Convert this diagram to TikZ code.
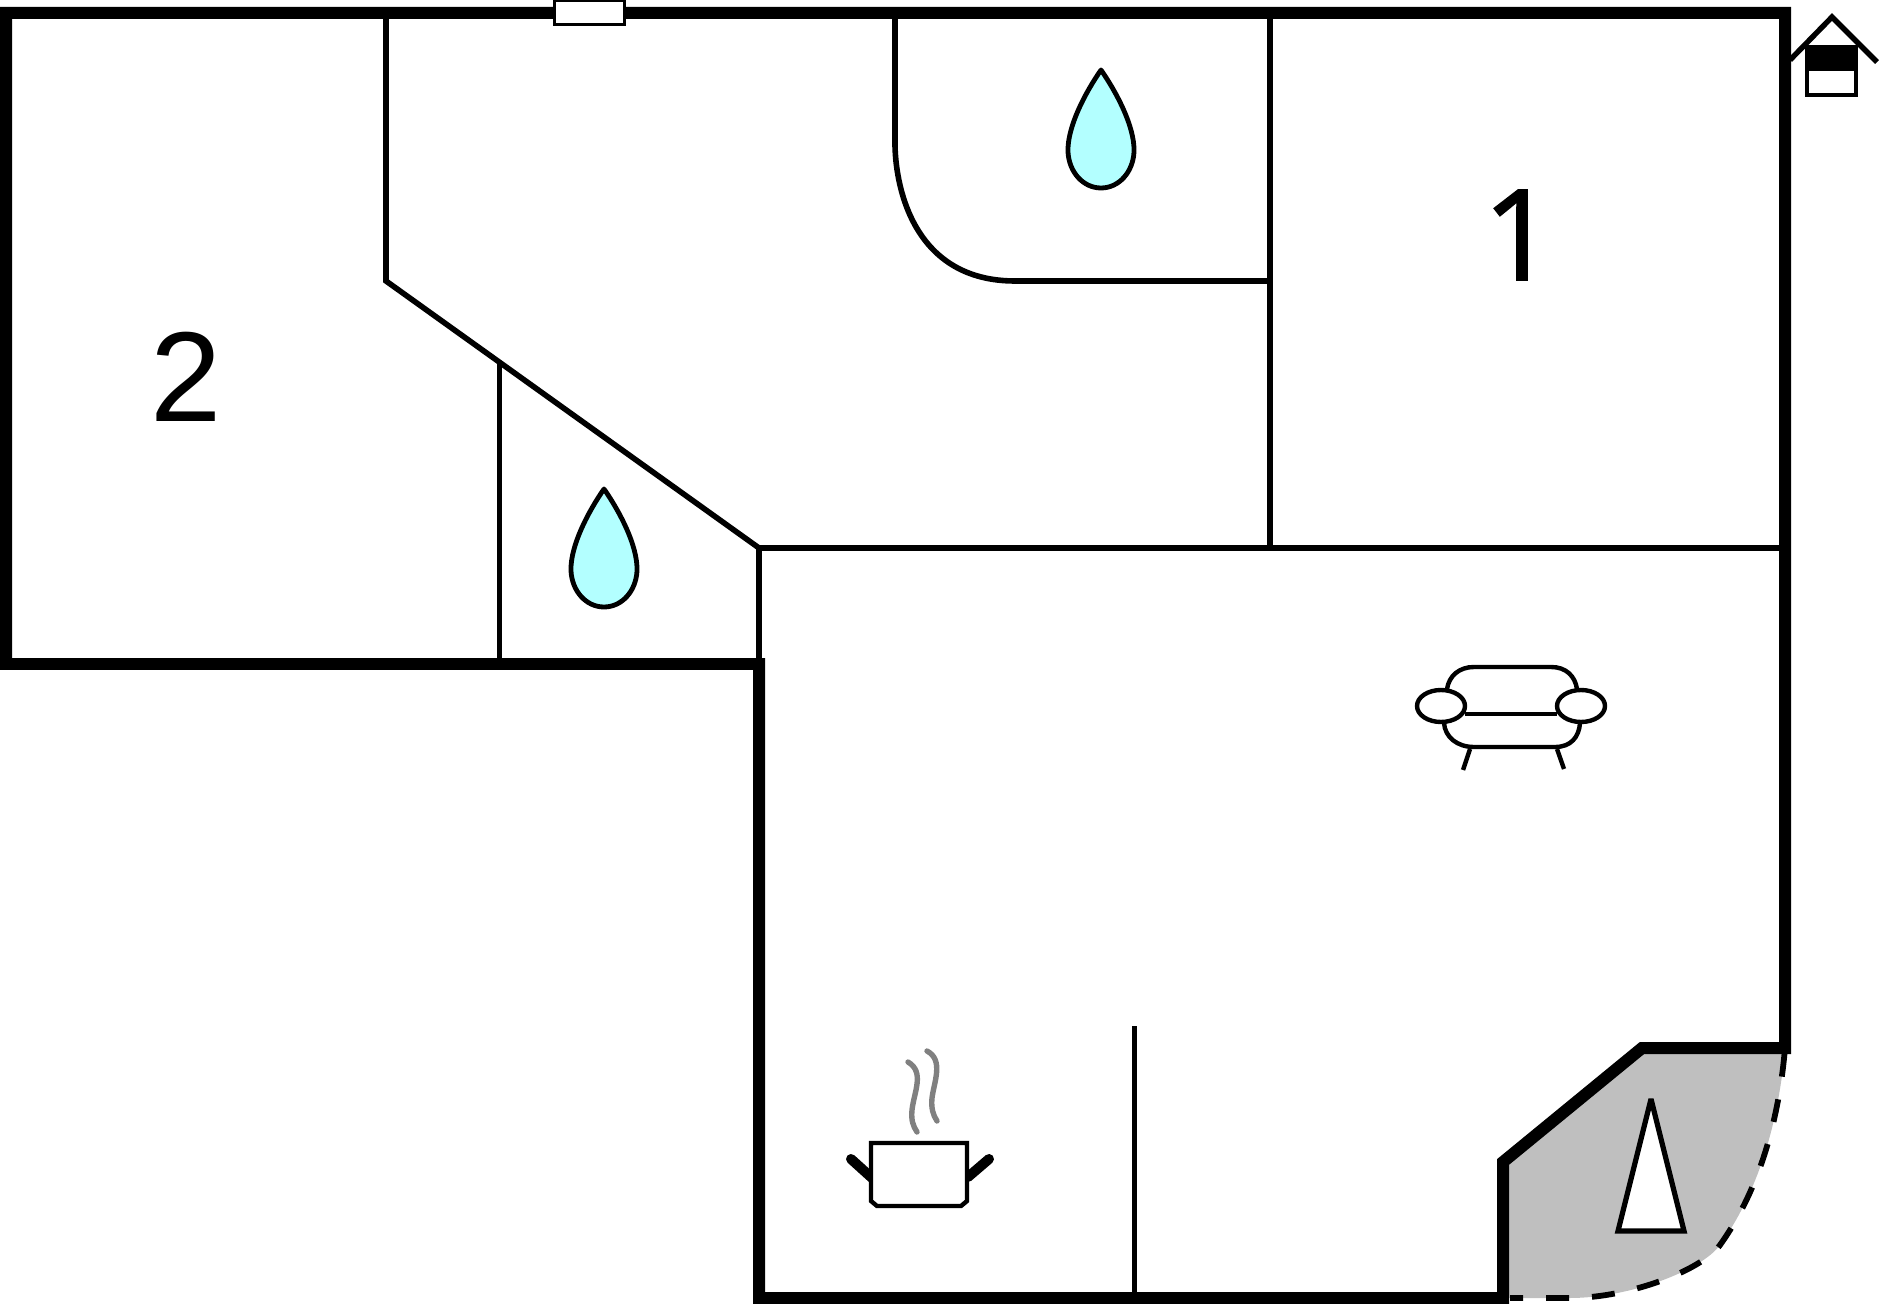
\documentclass[tikz,border=0pt]{standalone}
\usepackage{fontspec}
\setmainfont{Liberation Sans}
\newfontfamily\onefont[FakeBold=1.5]{Open Sans}
\usetikzlibrary{shapes.geometric}
\definecolor{dropblue}{HTML}{B3FFFF}
\definecolor{porchgray}{HTML}{BFBFBF}
\tikzstyle{outerwall} = [line width=6pt,line cap=butt,line join=miter]
\tikzstyle{innerwall} = [line width=2.8pt]
\tikzstyle{roomlabel} = [inner sep=0pt,font=\fontsize{64}{70}\selectfont]

\begin{document}
\begin{tikzpicture}
		[
		x=0.5pt,y=-0.5pt,
		thinline/.style={line width=2.2pt},
		furniture/.style={draw,fill=white,line width=2.2pt},
		steam/.style={draw=gray,line width=2.7pt,line cap=round},
		armrest/.style={furniture,ellipse,minimum width=24pt,minimum height=16pt,inner sep=0pt},
		waterdrop/.pic={
			\draw[fill=dropblue,line width=2.4pt,line join=round] (0,0) .. controls (-14,20) and (-34,56) .. (-33,82) .. controls (-32,102) and (-18,118) .. (0,118) .. controls (18,118) and (32,102) .. (33,82) .. controls (34,56) and (14,20) .. (0,0) -- cycle;
		}
		]
		\useasboundingbox (0,0) rectangle (1879,1304);
		% porch
		\fill[porchgray] (1785,1048) -- (1642,1048) -- (1503,1162) -- (1503,1298) -- (1570,1298) .. controls (1630,1298) and (1702,1270) .. (1720,1245) .. controls (1755,1196) and (1778,1130) .. (1785,1048) -- cycle;
		\draw[line width=2.9pt,dash pattern=on 11.5pt off 11.5pt,dash phase=5pt] (1510,1298) -- (1570,1298) .. controls (1630,1298) and (1702,1270) .. (1720,1245) .. controls (1755,1196) and (1778,1130) .. (1785,1048);
		% inner walls
		\draw[innerwall] (386,13) -- (386,281) -- (759,548) -- (759,664);
		\draw[innerwall] (759,548) -- (1785,548);
		\draw[innerwall] (499.5,363) -- (499.5,664);
		\draw[innerwall] (1270,13) -- (1270,548);
		\draw[innerwall] (895,13) -- (895,146) .. controls (896,190) and (915,281) .. (1015,281) -- (1270,281);
		\draw[innerwall] (1134.5,1026) -- (1134.5,1298);
		% outer walls
		\draw[outerwall] (6,664) -- (6,13) -- (1785,13) -- (1785,1048) -- (1642,1048) -- (1503,1162) -- (1503,1298) -- (759,1298) -- (759,658);
		\draw[line width=6pt] (0,664) -- (765,664);
		% window
		\draw[fill=white,line width=1.5pt] (554,1) rectangle (624,25);
		% drops
		\pic at (1101,70) {waterdrop};
		\pic at (604,489) {waterdrop};
		% labels
		\node[roomlabel,font=\onefont\fontsize{63}{70}\selectfont] (room_one) at (1519,235) {1};
		\node[roomlabel] (room_two) at (186,377) {2};
		% house
		\draw[line width=2.7pt] (1790,60) -- (1832,17) -- (1877,62);
		\draw[fill=white,line width=2pt] (1807,47) rectangle (1856,95);
		\fill (1805,45) rectangle (1858,71);
		% sofa
		\draw[furniture] (1447,689) .. controls (1449,676) and (1459,667) .. (1474,667) -- (1551,667) .. controls (1566,667) and (1575,676) .. (1577,689);
		\draw[thinline] (1465,714) -- (1557,714);
		\draw[thinline] (1444,723) .. controls (1445,737) and (1457,747) .. (1474,747) -- (1555,747) .. controls (1571,747) and (1579,737) .. (1580,723);
		\draw[thinline] (1470,749) -- (1463,770);
		\draw[thinline] (1557,749) -- (1564,769);
		\node[armrest] (arm_left) at (1441,706) {};
		\node[armrest] (arm_right) at (1581,706) {};
		% pot
		\draw[line width=5pt,line cap=round] (851,1159) -- (872,1178);
		\draw[line width=5pt,line cap=round] (989,1159) -- (968,1177);
		\draw[furniture] (871,1143) -- (967,1143) -- (967,1201) -- (961,1206) -- (877,1206) -- (871,1201) -- cycle;
		\draw[steam] (908,1062) .. controls (925,1072) and (914,1092) .. (912,1110) .. controls (911,1120) and (913,1126) .. (917,1132);
		\draw[steam] (927,1051) .. controls (944,1060) and (934,1082) .. (932,1098) .. controls (931,1108) and (933,1115) .. (937,1121);
		% entrance
		\draw[furniture,line width=2.6pt,miter limit=3] (1651,1099) -- (1684,1231) -- (1618,1231) -- cycle;
		\end{tikzpicture}
\end{document}
